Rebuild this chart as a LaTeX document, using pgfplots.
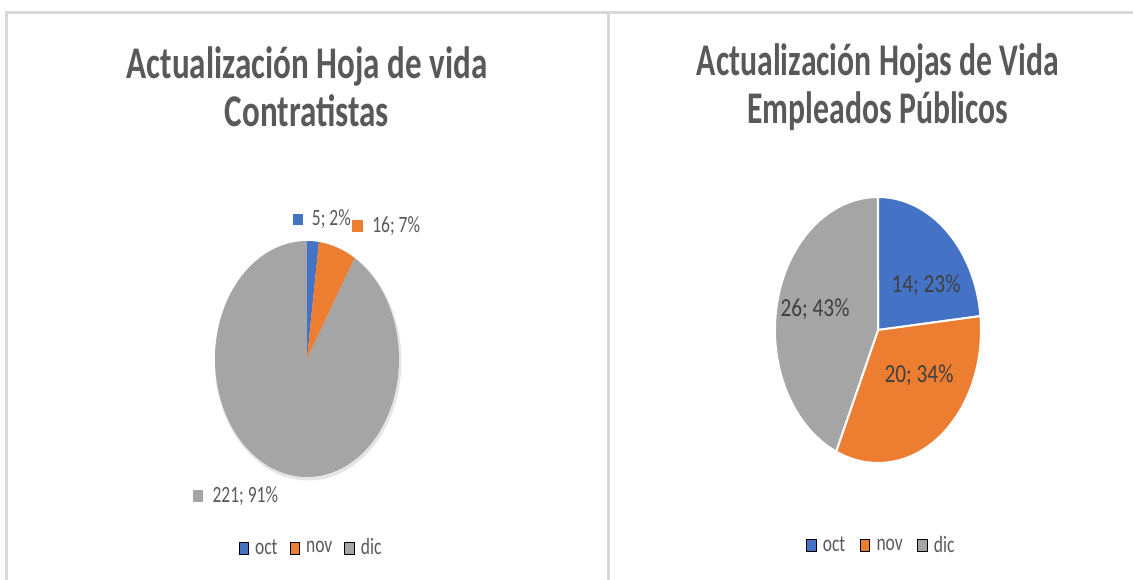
\documentclass[border=0pt]{standalone}
\usepackage{fontspec}
\setmainfont{Carlito}[FakeStretch=0.75]
\newfontfamily\tituloA{Carlito}[FakeStretch=0.73]
\newfontfamily\tituloB{Carlito}[FakeStretch=0.70]
\newfontfamily\etiq{Carlito}[FakeStretch=0.82]
\usepackage{pgfplots}
\usepackage{pgfplotstable}
\pgfplotsset{compat=1.18}

\definecolor{cOct}{HTML}{4472C4}
\definecolor{cNov}{HTML}{ED7D31}
\definecolor{cDic}{HTML}{A5A5A5}
\definecolor{txt}{HTML}{595959}
\definecolor{lbl}{HTML}{404040}
\definecolor{marco}{HTML}{D9D9D9}

\pgfplotstableread{
mes valor color
oct 5   cOct
nov 16  cNov
dic 221 cDic
}\contratistas

\pgfplotstableread{
mes valor color
oct 14 cOct
nov 20 cNov
dic 26 cDic
}\empleados

% slices clockwise from 12 o'clock; #2,#3 = radii of the axis box, #4 = extra style
\newcommand{\pieslices}[4]{%
  \pgfplotstablegetrowsof{#1}%
  \pgfmathtruncatemacro{\lastrow}{\pgfplotsretval-1}%
  \def\tot{0}%
  \pgfplotsforeachungrouped \row in {0,...,\lastrow}{%
    \pgfplotstablegetelem{\row}{valor}\of#1%
    \pgfmathsetmacro{\tot}{\tot+\pgfplotsretval}%
  }%
  \def\anga{90}%
  \pgfplotsforeachungrouped \row in {0,...,\lastrow}{%
    \pgfplotstablegetelem{\row}{valor}\of#1%
    \pgfmathsetmacro{\angb}{\anga-360*(\pgfplotsretval/\tot)}%
    \pgfplotstablegetelem{\row}{color}\of#1%
    \edef\doslice{\noexpand\fill[fill=\pgfplotsretval,#4]
      (axis cs:0,0) -- (axis cs:{cos(\anga)},{sin(\anga)})
      arc[start angle=\anga, end angle=\angb, x radius=#2, y radius=#3] -- cycle;}%
    \doslice
    \let\anga\angb
  }%
}

\pgfplotsset{
  tarta/.style={
    scale only axis, hide axis, clip=false,
    xmin=-1, xmax=1, ymin=-1, ymax=1,
    legend columns=-1,
    legend image code/.code={\fill[##1] (0pt,-4.5pt) rectangle (7pt,4.5pt);},
    legend style={draw=none, fill=none, text=txt,
      font=\fontsize{17.5}{20}\selectfont,
      nodes={inner sep=1pt},
      /tikz/every odd column/.append style={column sep=4pt},
      /tikz/every even column/.append style={column sep=8pt}},
  },
}

\begin{document}
\begin{tikzpicture}
\useasboundingbox (0,0) rectangle (849.75pt,-435pt);
\fill[white] (0,0) rectangle (849.75pt,-435pt);

% panel frames
\draw[marco, line width=2.25pt] (4.5pt,-450pt) -- (4.5pt,-9.75pt) -- (456pt,-9.75pt) -- (456pt,-450pt);
\draw[marco, line width=2.25pt] (456pt,-9.75pt) -- (860pt,-9.75pt);

% left pie
\begin{axis}[tarta, at={(230.25pt,-269.25pt)}, anchor=center,
  width=138pt, height=177pt,
  legend style={at={(0.52,-0.30)}, anchor=center}]
\fill[black, opacity=0.10] (axis cs:0.012,-0.018) ellipse [x radius=70pt, y radius=89.5pt];
\pieslices{\contratistas}{69pt}{88.5pt}{}
\addlegendimage{fill=cOct}\addlegendentry{oct}
\addlegendimage{fill=cNov}\addlegendentry{nov}
\addlegendimage{fill=cDic}\addlegendentry{dic}
\end{axis}

% right pie
\begin{axis}[tarta, at={(658.5pt,-247.5pt)}, anchor=center,
  width=154.5pt, height=199.5pt,
  legend style={at={(0.515,-0.31)}, anchor=center,
    /tikz/every even column/.append style={column sep=10pt}}]
\pieslices{\empleados}{77.25pt}{99.75pt}{draw=white, line width=1.5pt}
\addlegendimage{fill=cOct}\addlegendentry{oct}
\addlegendimage{fill=cNov}\addlegendentry{nov}
\addlegendimage{fill=cDic}\addlegendentry{dic}
\end{axis}

\begin{scope}[x=0.75pt, y=0.75pt]
  % titles
  \node[text=txt, align=center, font=\tituloA\fontsize{34}{36}\selectfont\bfseries]
    at (307,-87) {Actualización Hoja de vida\\Contratistas};
  \node[text=txt, align=center, font=\tituloB\fontsize{34}{36}\selectfont\bfseries]
    at (878,-87) {Actualización Hojas de Vida\\Empleados Públicos};
  % data labels, left
  \begin{scope}[every node/.style={text=txt, anchor=west, inner sep=0pt,
      font=\fontsize{17.5}{20}\selectfont}]
    \node at (293,-219) {\textcolor{cOct}{\rule{7pt}{8.5pt}}\hspace{7pt}5; 2\%};
    \node at (352,-226) {\textcolor{cNov}{\rule{8pt}{9pt}}\hspace{7pt}16; 7\%};
    \node at (193,-496) {\textcolor{cDic}{\rule{7.5pt}{9pt}}\hspace{7pt}221; 91\%};
  \end{scope}
  % data labels, right
  \begin{scope}[every node/.style={text=lbl, inner sep=0pt,
      font=\etiq\fontsize{19.5}{22}\selectfont}]
    \node at (926,-285) {14; 23\%};
    \node at (919,-375) {20; 34\%};
    \node at (815,-309) {26; 43\%};
  \end{scope}
\end{scope}
\end{tikzpicture}
\end{document}
